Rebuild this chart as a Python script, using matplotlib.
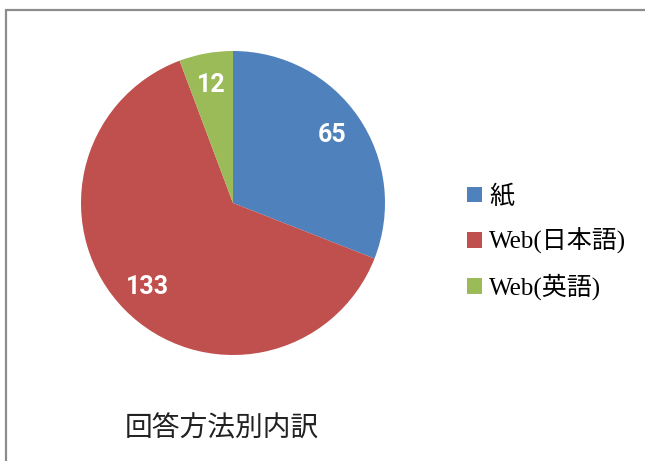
import matplotlib.pyplot as plt
from matplotlib.patches import Rectangle

labels = ['紙', 'Web(日本語)', 'Web(英語)']
values = [65, 133, 12]
colors = ['#4F81BD', '#C0504D', '#9BBB59']
title = '回答方法別内訳'

W, H = 645, 461
fig = plt.figure(figsize=(W / 100, H / 100), dpi=100)

# outer border of the chart area
fig.patches.append(Rectangle((6 / W, -0.1), 1.2, 1 - 10 / H + 0.1, transform=fig.transFigure,
                             fill=False, edgecolor='#8c8c8c', lw=1.6))

cx, cy, r = 233, 203, 152
ax = fig.add_axes([(cx - r) / W, (H - cy - r) / H, 2 * r / W, 2 * r / H])
total = sum(values)
wedges, texts, autotexts = ax.pie(values, colors=colors, startangle=90, counterclock=False,
                                  radius=1, autopct=lambda p: '%d' % round(p * total / 100),
                                  pctdistance=0.79)
for t in autotexts:
    t.set_color('white')
    t.set_fontsize(18)
    t.set_fontweight('bold')
    t.set_family(['Roboto', 'DejaVu Sans'])
ax.set_xlim(-1, 1)
ax.set_ylim(-1, 1)
ax.set_aspect('auto')

leg = fig.legend(wedges, labels, loc='upper left', bbox_to_anchor=(444 / W, 1 - 162 / H),
                 frameon=False, handlelength=0.6, handleheight=0.6, handletextpad=0.3,
                 labelspacing=0.78, prop={'family': ['Liberation Serif', 'Noto Sans CJK JP'], 'size': 18})

fig.text(222 / W, 1 - 428 / H, title, ha='center', va='center', fontsize=20,
         family=['Noto Sans CJK JP', 'DejaVu Sans'], color='#222222')

fig.savefig('out.png', dpi=100)
